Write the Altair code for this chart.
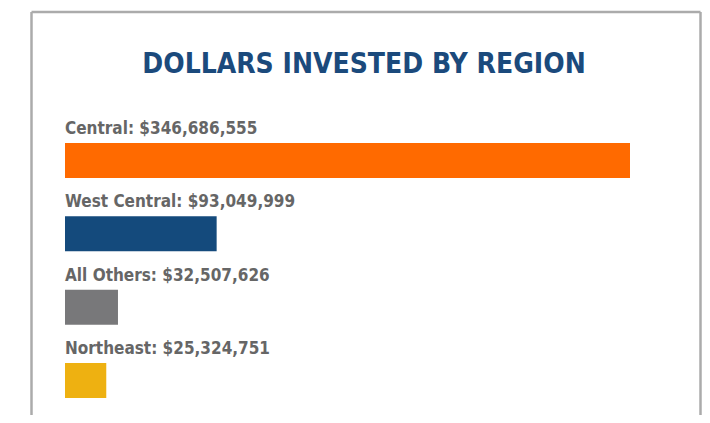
import altair as alt
import pandas as pd

regions = ["Central", "West Central", "All Others", "Northeast"]
amounts = [346686555, 93049999, 32507626, 25324751]
colors = ["#ff6a00", "#144a7c", "#78787a", "#eeb111"]
title_text = ["DOLLARS INVESTED BY REGION"]

df = pd.DataFrame({"region": regions, "amount": amounts})
df["label"] = [f"{r}: ${a:,}" for r, a in zip(regions, amounts)]

FONT = "DejaVu Sans Condensed"
W = 565
H = 255

x = alt.X("amount:Q", scale=alt.Scale(domain=[0, max(amounts)], nice=False, zero=True), axis=None)
y = alt.Y("region:N", sort=regions,
          scale=alt.Scale(paddingInner=0.5227, paddingOuter=0), axis=None)

bars = alt.Chart(df).mark_bar().encode(
    x=x, y=y,
    color=alt.Color("region:N", scale=alt.Scale(domain=regions, range=colors), legend=None),
)

labels = alt.Chart(df).mark_text(
    align="left", baseline="alphabetic", dy=-26.5,
    font=FONT, fontSize=17, fontWeight="bold", color="#666666",
).encode(x=alt.value(0), y=y, text="label:N")

title = alt.Chart(pd.DataFrame({"t": title_text})).mark_text(
    align="center", baseline="alphabetic",
    font=FONT, fontSize=28, fontWeight="bold", color="#1b4a7c",
).encode(x=alt.value(299), y=alt.value(-70), text="t:N")

one = alt.Data(values=[{"k": 1}])
frame_color = "#ababab"
left = alt.Chart(one).mark_rule(color=frame_color, strokeWidth=2.5).encode(
    x=alt.value(-33.5), y=alt.value(-131), y2=alt.value(272))
right = alt.Chart(one).mark_rule(color=frame_color, strokeWidth=2.5).encode(
    x=alt.value(635.5), y=alt.value(-131), y2=alt.value(272))
top = alt.Chart(one).mark_rule(color=frame_color, strokeWidth=2.5).encode(
    x=alt.value(-33.5), x2=alt.value(635.5), y=alt.value(-131))

chart = alt.layer(left, right, top, bars, labels, title).properties(
    width=W, height=H,
    autosize=alt.AutoSizeParams(type="none"),
    padding={"left": 57, "top": 135, "right": 72, "bottom": 17},
    background="white",
).configure_view(stroke=None)

chart.save("out.html", embed_options={"renderer": "svg", "actions": False})
